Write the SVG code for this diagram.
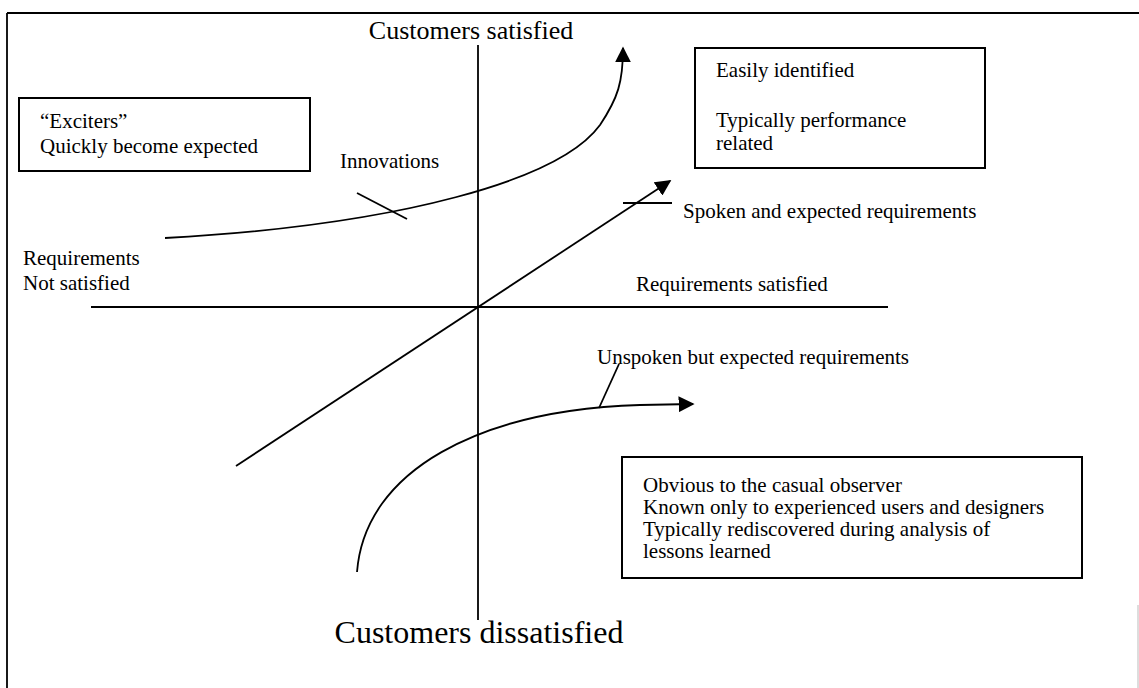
<svg xmlns="http://www.w3.org/2000/svg" width="1139" height="688" viewBox="0 0 1139 688">
<style>
text{font-family:"Liberation Serif","Times New Roman",serif;fill:#000}
.t{font-size:21px}
.box{fill:#fff;stroke:#000;stroke-width:2}
.ln{fill:none;stroke:#000;stroke-width:1.8}
</style>
<defs>
<marker id="ah2" viewBox="0 0 10 10" refX="9" refY="5" markerWidth="16" markerHeight="16" markerUnits="userSpaceOnUse" orient="auto">
<path d="M0,0 L10,5 L0,10 z" fill="#000"/>
</marker>
</defs>
<rect width="1139" height="688" fill="#fff"/>
<g id="frame">
<line x1="7" y1="13" x2="1139" y2="13" stroke="#000" stroke-width="1.8"/>
<line x1="7" y1="13" x2="7" y2="688" stroke="#000" stroke-width="1.8"/>
<line x1="1138" y1="605" x2="1138" y2="688" stroke="#bbb" stroke-width="1"/>
</g>
<g id="connectors">
<line class="ln" x1="478" y1="45" x2="478" y2="620"/>
<line class="ln" x1="91" y1="307" x2="888" y2="307"/>
<path class="ln" d="M165,238 C400,225 560,180 600,125 C618,98 623,82 623,48" marker-end="url(#ah2)"/>
<line class="ln" x1="236" y1="466" x2="670" y2="181" marker-end="url(#ah2)"/>
<path class="ln" d="M357,572 C365,470 480,410 640,405 L693,404" marker-end="url(#ah2)"/>
<line class="ln" x1="357" y1="193" x2="407" y2="219"/>
<line class="ln" x1="623" y1="203" x2="672" y2="203"/>
<line class="ln" x1="619" y1="364" x2="599" y2="408"/>
</g>
<g id="axis-labels">
<text x="471" y="39" font-size="26" text-anchor="middle">Customers satisfied</text>
<text x="479" y="643" font-size="32" text-anchor="middle">Customers dissatisfied</text>
<text class="t" x="23" y="265">Requirements</text>
<text class="t" x="23" y="290">Not satisfied</text>
<text class="t" x="636" y="291">Requirements satisfied</text>
</g>
<g id="exciters">
<rect class="box" x="19" y="98" width="291" height="73"/>
<text class="t" x="40" y="128">“Exciters”</text>
<text class="t" x="40" y="153">Quickly become expected</text>
</g>
<g id="easily">
<rect class="box" x="695" y="48" width="290" height="120"/>
<text class="t" x="716" y="77">Easily identified</text>
<text class="t" x="716" y="127">Typically performance</text>
<text class="t" x="716" y="150">related</text>
</g>
<g id="obvious">
<rect class="box" x="622" y="457" width="460" height="121"/>
<text class="t" x="643" y="492">Obvious to the casual observer</text>
<text class="t" x="643" y="514">Known only to experienced users and designers</text>
<text class="t" x="643" y="536">Typically rediscovered during analysis of</text>
<text class="t" x="643" y="558">lessons learned</text>
</g>
<g id="labels">
<text class="t" x="340" y="168">Innovations</text>
<text class="t" x="683" y="218">Spoken and expected requirements</text>
<text class="t" x="597" y="364">Unspoken but expected requirements</text>
</g>
</svg>
